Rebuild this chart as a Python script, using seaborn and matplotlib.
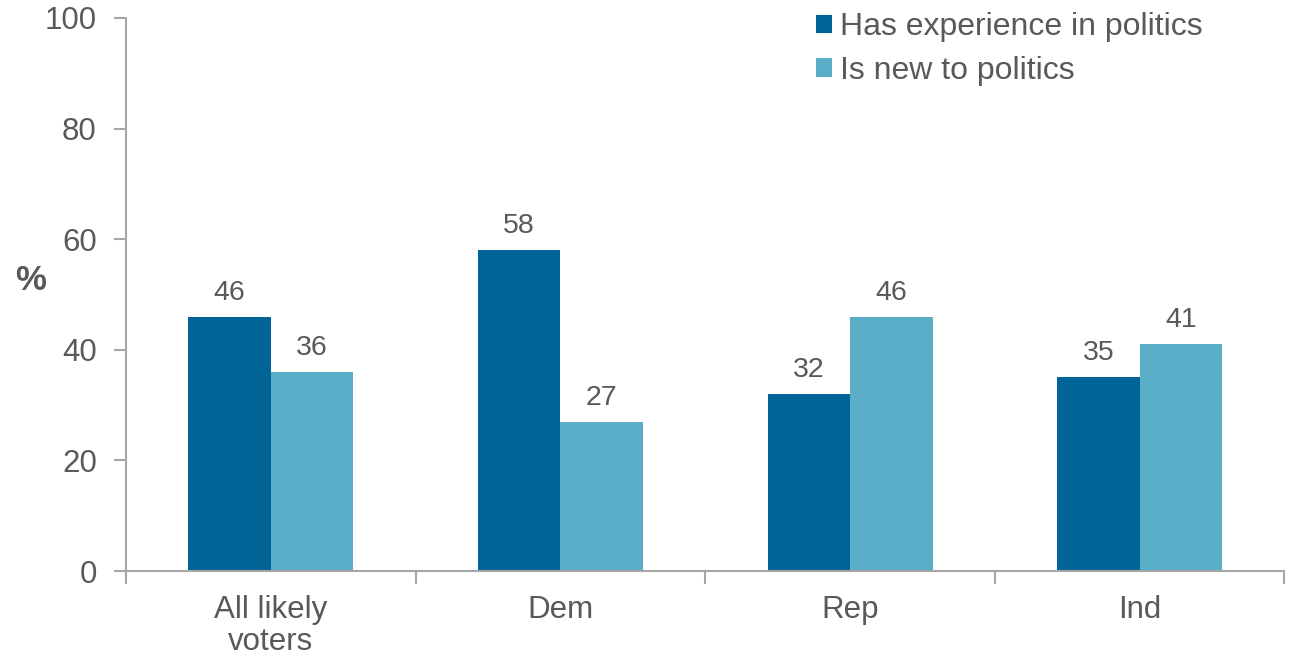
import pandas as pd
import seaborn as sns
import matplotlib.pyplot as plt
from matplotlib.ticker import FixedLocator

groups = ['All likely\nvoters', 'Dem', 'Rep', 'Ind']
series = ['Has experience in politics', 'Is new to politics']
experienced = [46, 58, 32, 35]
new_to_politics = [36, 27, 46, 41]
colors = ['#016496', '#5aaec7']
text_color = '#595959'

df = pd.DataFrame({
    'group': groups * 2,
    'answer': [series[0]] * 4 + [series[1]] * 4,
    'pct': experienced + new_to_politics,
})

sns.set_theme(style='white')
plt.rcParams['font.family'] = ['Liberation Sans', 'DejaVu Sans']
plt.rcParams['text.color'] = text_color

fig = plt.figure(figsize=(12.9, 6.59), dpi=100)
ax = fig.add_axes([0.0977, 0.1335, 0.898, 0.8392])

sns.barplot(data=df, x='group', y='pct', hue='answer', order=groups, hue_order=series,
            palette=colors, width=0.57, saturation=1, edgecolor='none', ax=ax)

for c in ax.containers:
    ax.bar_label(c, fmt='%d', padding=8, fontsize=20.5, color=text_color)

ax.set_ylim(0, 100)
ax.set_xlim(-0.5, 3.5)
ax.set_yticks([0, 20, 40, 60, 80, 100])
ax.xaxis.set_minor_locator(FixedLocator([-0.5, 0.5, 1.5, 2.5, 3.5]))

for side in ['top', 'right']:
    ax.spines[side].set_visible(False)
for side in ['left', 'bottom']:
    ax.spines[side].set_color('#a6a6a6')
    ax.spines[side].set_linewidth(1.5)

ax.tick_params(axis='y', which='major', left=True, length=9, width=1.5, color='#a6a6a6',
               labelsize=22.5, labelcolor=text_color, pad=12)
ax.tick_params(axis='x', which='major', bottom=False, length=0, labelsize=22.5,
               labelcolor=text_color, pad=17)
ax.tick_params(axis='x', which='minor', bottom=True, length=9, width=1.5, color='#a6a6a6')
for lbl in ax.get_xticklabels():
    lbl.set_linespacing(1.1)

ax.set_xlabel('')
ax.set_ylabel('%', rotation=0, fontsize=25, fontweight='bold', color=text_color, va='center')
ax.yaxis.set_label_coords(-0.082, 0.526)

ax.legend(loc='upper left', bbox_to_anchor=(0.5705, 1.062), frameon=False, fontsize=23,
          handlelength=0.5, handleheight=0.5, handletextpad=0.25, labelspacing=0.42,
          labelcolor=text_color)

fig.savefig('out.png', dpi=100)
